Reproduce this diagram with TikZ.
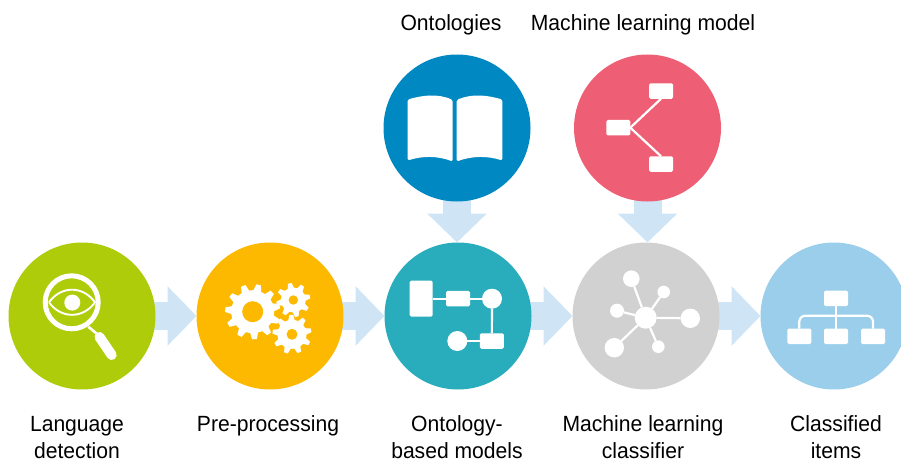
\documentclass[tikz,border=0pt]{standalone}
\usepackage{fontspec}
\setmainfont[FakeStretch=0.96]{Liberation Sans}
\usetikzlibrary{positioning,arrows.meta,backgrounds}
\definecolor{detectgreen}{HTML}{AFCC0A}
\definecolor{prepyellow}{HTML}{FDB900}
\definecolor{modelteal}{HTML}{29ADBC}
\definecolor{classgray}{HTML}{D1D1D1}
\definecolor{itemblue}{HTML}{9ACEEB}
\definecolor{ontoblue}{HTML}{0088C3}
\definecolor{mlred}{HTML}{EE5F75}
\definecolor{flowblue}{HTML}{CFE5F6}

\begin{document}
\begin{tikzpicture}[x=1pt, y=-1pt, node distance = 41pt,
    stage/.style={circle, fill=#1, minimum size=147pt, inner sep=0pt, outer sep=0pt},
    flow/.style={-{Triangle[width=58pt,length=29pt]}, line width=28pt, color=flowblue, shorten <=-4pt},
    caption/.style={align=center, font=\fontsize{22}{27}\selectfont},
    iconbox/.style={fill=white, rounded corners=1.5pt, minimum width=24pt, minimum height=15.5pt, inner sep=0pt, outer sep=0pt},
    icondot/.style={circle, fill=white, minimum size=#1, inner sep=0pt, outer sep=0pt},
    iconline/.style={draw=white, line width=2.2pt}
    ]
    \useasboundingbox (0,0) rectangle (901,460);

    \node[stage=detectgreen] (detection) at (82,316) {};
    \node[stage=prepyellow, right=of detection] (preprocessing) {};
    \node[stage=modelteal, right=of preprocessing] (models) {};
    \node[stage=classgray, right=of models] (classifier) {};
    \node[stage=itemblue, right=of classifier] (items) {};
    \node[stage=ontoblue, above=of models, xshift=-1pt] (ontologies) {};
    \node[stage=mlred, above=of classifier, xshift=1.5pt] (mlmodel) {};

    \begin{scope}[on background layer]
      \foreach \from/\to in {detection/preprocessing,preprocessing/models,models/classifier,classifier/items} {
        \draw[flow] (\from) to (\to);
      };
      \foreach \from/\to in {ontologies/models,mlmodel/classifier} {
        \draw[flow] (\from) to (\from |- \to.north);
      };
    \end{scope}

    \node[caption] (detection_label) at (77,437.5) {Language\\ detection};
    \node[caption] (preprocessing_label) at (268,426) {Pre-processing};
    \node[caption] (models_label) at (457,437.5) {Ontology-\\ based models};
    \node[caption] (classifier_label) at (643,437.5) {Machine learning\\ classifier};
    \node[caption] (items_label) at (836,437.5) {Classified\\ items};
    \node[caption] (ontologies_label) at (451,25) {Ontologies};
    \node[caption] (mlmodel_label) at (643,25) {Machine learning model};

    % magnifier
    \draw[white, line width=5pt] (71.7,302.3) circle (26.5);
    \draw[white, line width=1.9pt] (49,302.3) .. controls (61,285.5) and (83,285.5) .. (95,302.3)
      .. controls (83,319) and (61,319) .. (49,302.3);
    \fill[white] (72.3,302.6) circle (8);
    \draw[white, line width=2.6pt] (88.3,326.7) -- (98.3,335);
    \draw[white, line width=10pt, line cap=round] (99.5,337) -- (111.7,355);

    % gears
    \foreach \cx/\cy/\rootr/\tipr/\holer/\teeth in {252.7/311.7/21.5/27.5/10.5/11,293.3/300/12.5/17/4.7/8,292/334.3/14.5/19.5/5.5/9} {
      \fill[white] (\cx,\cy) circle (\rootr);
      \pgfmathsetmacro{\toothstep}{360/\teeth}
      \pgfmathsetmacro{\toothend}{360-\toothstep}
      \foreach \a in {0,\toothstep,...,\toothend} {
        \fill[white, shift={(\cx,\cy)}, rotate=\a+12]
          (\rootr-1,-0.33*\toothstep*\rootr/57) -- (\tipr,-0.19*\toothstep*\rootr/57)
          -- (\tipr,0.19*\toothstep*\rootr/57) -- (\rootr-1,0.33*\toothstep*\rootr/57) -- cycle;
      };
      \fill[prepyellow] (\cx,\cy) circle (\holer);
    };

    % book
    \fill[white, rounded corners=1.5pt] (407.7,99.5) .. controls (422,95.5) and (437,93) .. (452.7,100)
      -- (452.7,161.5) .. controls (437,155.5) and (422,156) .. (407.7,160.5) -- cycle;
    \fill[white, rounded corners=1.5pt] (502.3,99.5) .. controls (488,95.5) and (473,93) .. (456.7,100)
      -- (456.7,161.5) .. controls (473,155.5) and (488,156) .. (502.3,160.5) -- cycle;

    % tree of the model
    \node[iconbox] (ml_root) at (618.3,127.7) {};
    \node[iconbox] (ml_top) at (661,91) {};
    \node[iconbox] (ml_bottom) at (661,164) {};
    \foreach \leaf/\side in {ml_top/south,ml_bottom/north} {
      \draw[iconline] (ml_root.east) -- (\leaf.\side);
    };

    % flow chart
    \node[iconbox, minimum width=23pt, minimum height=36pt] (m_start) at (421.2,298.7) {};
    \node[iconbox] (m_step) at (458,298.7) {};
    \node[icondot=20pt] (m_dot) at (492,298.7) {};
    \node[iconbox] (m_last) at (491.8,341) {};
    \node[icondot=20pt] (m_end) at (457.3,341) {};
    \draw[iconline] (m_start) -- (m_step);
    \draw[iconline] (m_step) -- (m_dot);
    \draw[iconline] (m_dot) -- (m_last);
    \draw[iconline] (m_last) -- (m_end);

    % hub and spokes
    \node[icondot=22pt] (hub) at (645.7,317.7) {};
    \foreach \spoke/\sx/\sy/\ssize in {s1/631.3/278.7/16.6pt,s2/663.7/292/12.6pt,s3/617/310.7/14pt,s4/690.3/318.3/19.4pt,s5/614.3/347.7/19.4pt,s6/658.3/346.7/12.6pt} {
      \node[icondot=\ssize] (\spoke) at (\sx,\sy) {};
      \draw[iconline] (hub) -- (\spoke);
    };

    % hierarchy
    \node[iconbox] (i_top) at (836,298.3) {};
    \node[iconbox] (i_left) at (799.3,336.3) {};
    \node[iconbox] (i_mid) at (836,336.3) {};
    \node[iconbox] (i_right) at (873,336.3) {};
    \coordinate (i_bus) at (836,315.7);
    \draw[iconline] (i_top) -- (i_mid);
    \draw[iconline, rounded corners=6pt] (i_left.north) |- (i_bus) -| (i_right.north);
  \end{tikzpicture}
\end{document}
